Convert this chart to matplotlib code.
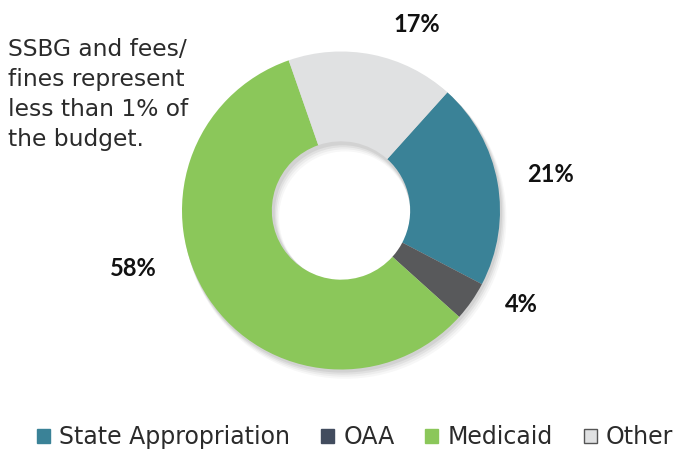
import matplotlib
matplotlib.use("Agg")
import matplotlib.pyplot as plt
from matplotlib.patches import Patch, Wedge

categories = ["State Appropriation", "OAA", "Medicaid", "Other"]
values = [21, 4, 58, 17]
colors = ["#3A8297", "#58595B", "#8BC75A", "#E0E1E2"]
legend_colors = ["#3A8297", "#424C5E", "#8BC75A", "#E0E1E2"]
note = "SSBG and fees/\nfines represent\nless than 1% of\nthe budget."

W, H = 676, 449
cx, cy, R = 341, 210.5, 159.0  # pixel geometry
fig = plt.figure(figsize=(W / 100, H / 100), dpi=100)
ax = fig.add_axes([0, 0, 1, 1])

# soft shadow
for off, a in [(0.045, 0.03), (0.035, 0.04), (0.025, 0.05), (0.015, 0.06)]:
    ax.add_patch(Wedge((off * 0.6, -off), 1.0 + off * 0.3, 0, 360, width=0.57 + off * 0.6,
                       facecolor="black", alpha=a, edgecolor="none", zorder=0))

wedges, _ = ax.pie(values, colors=colors, startangle=48, counterclock=False,
                   radius=1.0, wedgeprops=dict(width=0.565, edgecolor="none"))
for w in wedges:
    w.set_zorder(2)

ax.set_xlim(-cx / R, (W - cx) / R)
ax.set_ylim(-(H - cy) / R, cy / R)
ax.set_aspect("auto")
ax.axis("off")

# percentage labels (pixel positions converted to data coords)
label_px = [(550, 175), (521, 305), (133, 268), (417, 25)]
for v, (px, py) in zip(values, label_px):
    ax.text((px - cx) / R, (cy - py) / R, f"{v}%", ha="center", va="center",
            fontsize=17, fontweight="bold", family=["Lato", "DejaVu Sans"],
            color="#111111")

fig.text(8 / W, 1 - 38 / H, note, ha="left", va="top", fontsize=16.8,
         family=["DejaVu Sans"], color="#2b2b2b",
         linespacing=1.38)

handles = []
for c, lc in zip(categories, legend_colors):
    ec = "#555555" if c == "Other" else lc
    handles.append(Patch(facecolor=lc, edgecolor=ec, linewidth=1.0, label=c))
leg = fig.legend(handles=handles, loc="center", bbox_to_anchor=(355 / W, 1 - 437 / H),
                 ncol=4, frameon=False, handlelength=0.55, handleheight=0.55,
                 handletextpad=0.4, columnspacing=1.3,
                 prop=dict(family=["DejaVu Sans"], size=17))
for t in leg.get_texts():
    t.set_color("#2b2b2b")

fig.savefig("out.png", dpi=100, facecolor="white")
